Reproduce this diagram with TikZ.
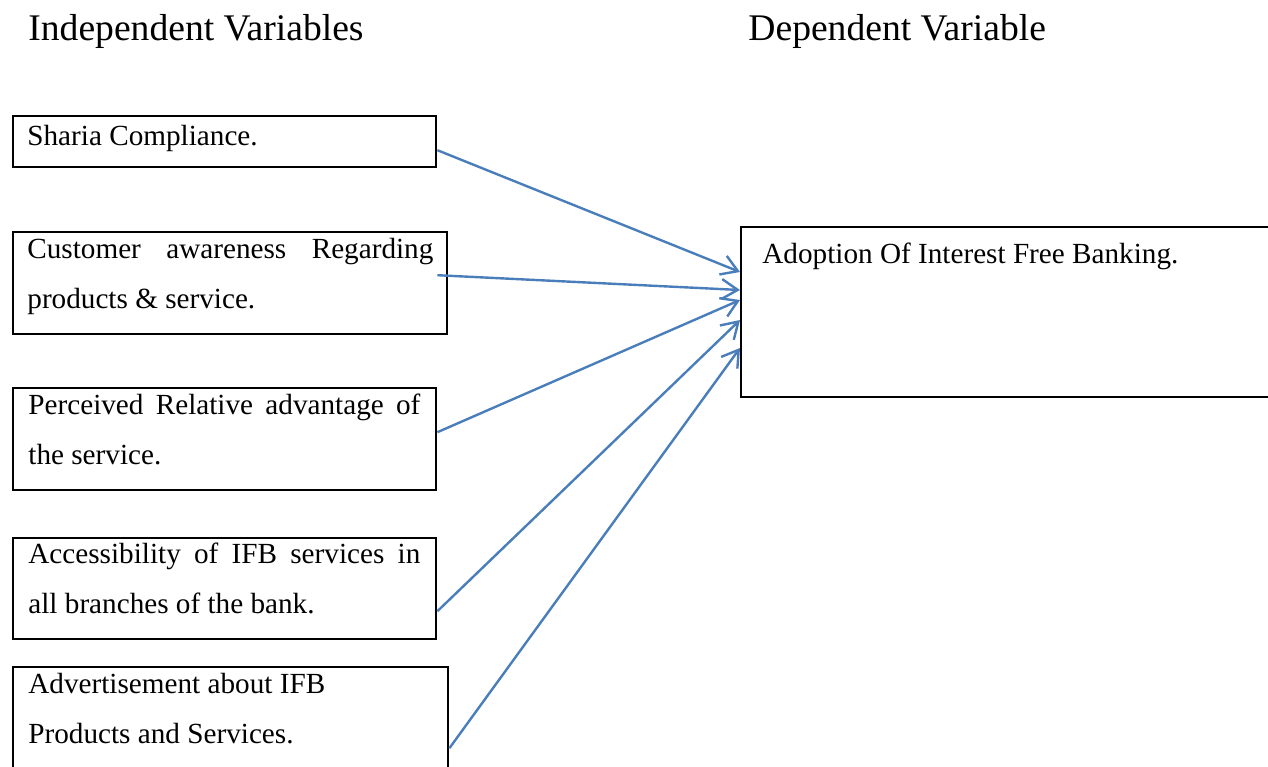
\documentclass[tikz,border=0pt]{standalone}
\usepackage{fontspec}
\setmainfont{Liberation Serif}
\usepackage{tikz}
\usetikzlibrary{arrows.meta}
\definecolor{linkblue}{HTML}{4A7EBB}

\begin{document}
\begin{tikzpicture}[x=0.5pt, y=-0.5pt,
    varbox/.style={draw, line width=1.2pt, anchor=north west, inner sep=0pt},
    vartext/.style={anchor=base west, inner sep=0pt, font=\fontsize{14.6}{25}\selectfont},
    heading/.style={anchor=base west, inner sep=0pt, font=\fontsize{18.8}{22}\selectfont},
    link/.style={linkblue, line width=1.2pt, -{Straight Barb[length=8pt, width=10pt]}}]

  \useasboundingbox (0,0) rectangle (1268,766);

  % column headings
  \node[heading] (indephead) at (28,40) {Independent Variables};
  \node[heading] (dephead) at (748,40) {Dependent Variable};

  % independent variables
  \node[varbox, minimum width=211.5pt, minimum height=25.5pt] (sharia) at (12,115) {};
  \node[vartext] (shariatext) at ([xshift=7.5pt, yshift=-15pt]sharia.north west) {Sharia Compliance.};

  \node[varbox, minimum width=217pt, minimum height=51pt] (aware) at (12,231) {};
  \node[vartext, text width=203pt, align=justify] (awaretext) at ([xshift=7.5pt, yshift=-13.5pt]aware.north west)
    {Customer awareness Regarding\linebreak products \& service.};

  \node[varbox, minimum width=211.5pt, minimum height=51pt] (advantage) at (12,387) {};
  \node[vartext, text width=196pt, align=justify] (advantagetext) at ([xshift=8pt, yshift=-13.5pt]advantage.north west)
    {Perceived Relative advantage of\linebreak the service.};

  \node[varbox, minimum width=211.5pt, minimum height=50.5pt] (access) at (12,537) {};
  \node[vartext, text width=196pt, align=justify] (accesstext) at ([xshift=8pt, yshift=-13pt]access.north west)
    {Accessibility of IFB services in\linebreak all branches of the bank.};

  \node[varbox, minimum width=217.5pt, minimum height=55pt] (advert) at (12,666) {};
  \node[vartext, text width=200pt, align=flush left] (adverttext) at ([xshift=8pt, yshift=-13.5pt]advert.north west)
    {Advertisement about IFB\\Products and Services.};

  % dependent variable
  \node[varbox, minimum width=270pt, minimum height=85pt] (adoption) at (740,226) {};
  \node[vartext] (adoptiontext) at ([xshift=11pt, yshift=-18.5pt]adoption.north west)
    {Adoption Of Interest Free Banking.};

  % links
  \draw[link] ([yshift=-4.25pt]sharia.east) -- ([yshift=-23pt]adoption.north west);
  \draw[link] ([xshift=-5.5pt, yshift=4pt]aware.east) -- ([yshift=-32pt]adoption.north west);
  \draw[link] ([yshift=3.5pt]advantage.east) -- ([yshift=-37pt]adoption.north west);
  \draw[link] ([yshift=-11.25pt]access.east) -- ([yshift=-47pt]adoption.north west);
  \draw[link] ([yshift=-13pt]advert.east) -- ([yshift=-61pt]adoption.north west);
\end{tikzpicture}
\end{document}
